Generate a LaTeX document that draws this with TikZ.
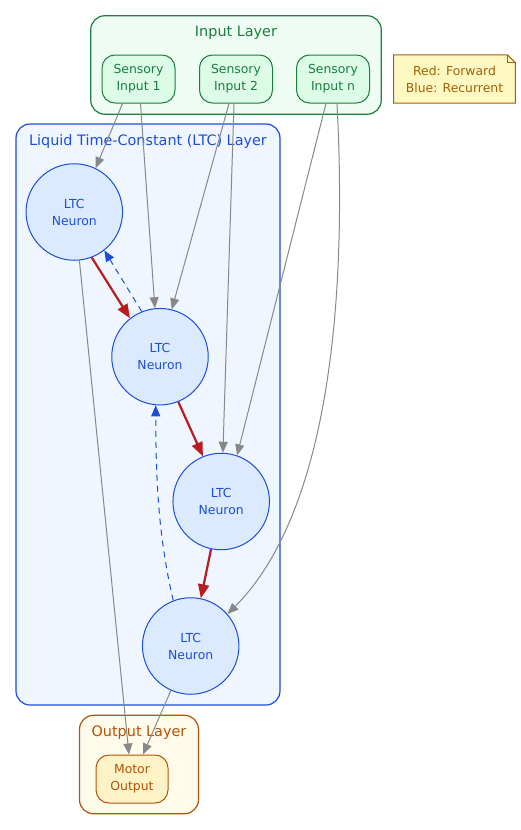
\documentclass[tikz,border=0pt]{standalone}
\usepackage{fontspec}
\setmainfont{DejaVu Sans}
\usetikzlibrary{arrows.meta}
\definecolor{ingreen}{HTML}{1A7F3E}
\definecolor{inback}{HTML}{EFFCF3}
\definecolor{inbox}{HTML}{DCFCE7}
\definecolor{ltcblue}{HTML}{1D4ED8}
\definecolor{ltcback}{HTML}{EFF6FF}
\definecolor{neuronfill}{HTML}{DBEAFE}
\definecolor{outbrown}{HTML}{B45309}
\definecolor{outback}{HTML}{FFFBEB}
\definecolor{motorfill}{HTML}{FEF3C7}
\definecolor{notefill}{HTML}{FEF9C3}
\definecolor{notebrown}{HTML}{A16207}
\definecolor{edgegray}{HTML}{888888}
\definecolor{fwdred}{HTML}{B91C1C}
\begin{document}
\begin{tikzpicture}[x=1pt,y=-1pt,
    every node/.style={font=\fontsize{12.4}{17}\selectfont, align=center},
    layer/.style={draw, rounded corners=14pt, line width=1.2pt, inner sep=0},
    title/.style={font=\fontsize{14.4}{17}\selectfont},
    sensor/.style={draw=ingreen, fill=inbox, text=ingreen, rounded corners=13pt, minimum width=73pt, minimum height=48pt, inner sep=0, line width=1pt},
    neuron/.style={circle, draw=ltcblue, fill=neuronfill, text=ltcblue, minimum size=96.5pt, inner sep=0, line width=1pt},
    link/.style={-{Triangle[length=11pt,width=9pt]}, draw=edgegray, line width=1pt},
    fwd/.style={-{Triangle[length=14pt,width=11pt]}, draw=fwdred, line width=2.2pt},
    rec/.style={-{Triangle[length=11pt,width=9pt]}, draw=ltcblue, line width=1pt, dash pattern=on 6pt off 5pt}]
    \fill[white] (0,0) rectangle (521,830);
    \useasboundingbox (0,0) rectangle (521,830);

    % layers
    \node[layer, draw=ingreen, fill=inback, minimum width=290.5pt, minimum height=98.5pt] (inlayer) at (236,65) {};
    \node[title, text=ingreen] (intitle) at (236,32.5) {Input Layer};
    \node[layer, draw=ltcblue, fill=ltcback, minimum width=264pt, minimum height=581pt] (ltclayer) at (148,414.5) {};
    \node[title, text=ltcblue] (ltctitle) at (148,141.5) {Liquid Time-Constant (LTC) Layer};
    \node[layer, draw=outbrown, fill=outback, minimum width=119pt, minimum height=98.5pt] (outlayer) at (139,764.5) {};
    \node[title, text=outbrown] (outtitle) at (139,732.5) {Output Layer};

    % nodes
    \node[sensor] (in1) at (138.5,79) {Sensory\\Input 1};
    \node[sensor] (in2) at (236,79) {Sensory\\Input 2};
    \node[sensor] (inn) at (333,79) {Sensory\\Input n};
    \node[neuron] (n1) at (74.3,212) {LTC\\Neuron};
    \node[neuron] (n2) at (160,356.7) {LTC\\Neuron};
    \node[neuron] (n3) at (221.2,501.5) {LTC\\Neuron};
    \node[neuron] (n4) at (190.7,646) {LTC\\Neuron};
    \node[draw=outbrown, fill=motorfill, text=outbrown, rounded corners=13pt, minimum width=72pt, minimum height=48pt, inner sep=0, line width=1pt] (motor) at (132,779) {Motor\\Output};

    % legend
    \node[text=notebrown, minimum width=121.5pt, minimum height=48pt, inner sep=0] (legend) at (454.5,79) {Red: Forward\\Blue: Recurrent};
    \filldraw[fill=notefill, draw=notebrown, line width=1pt] (legend.north west) -- ([xshift=-8pt]legend.north east) -- ([yshift=-8pt]legend.north east) -- (legend.south east) -- (legend.south west) -- cycle;
    \draw[notebrown, line width=1pt] ([xshift=-8pt]legend.north east) -- ([xshift=-8pt,yshift=-8pt]legend.north east) -- ([yshift=-8pt]legend.north east);
    \node[text=notebrown] at (legend) {Red: Forward\\Blue: Recurrent};

    % sensory links
    \draw[link] ([xshift=-16pt]in1.south) -- (n1.64);
    \draw[link] ([xshift=2pt]in1.south) -- (n2.96);
    \draw[link] ([xshift=-7pt]in2.south) -- (n2.76);
    \draw[link] ([xshift=-2pt]in2.south) -- (n3.88);
    \draw[link] ([xshift=-7pt]inn.south) -- (n3.71);
    \draw[link] ([xshift=4pt]inn.south) .. controls +(12,230) and +(92,-92) .. (n4.41);

    % forward and recurrent
    \draw[fwd] (n1.-69) -- (n2.128);
    \draw[fwd] (n2.-68) -- (n3.112);
    \draw[fwd] (n3.-102) -- (n4.78);
    \draw[rec] (n2.112) -- (n1.-52);
    \draw[rec] (n4.111) .. controls +(-14,-60) and +(0,80) .. (n2.-95);

    % output links
    \draw[link] (n1.-84) -- ([xshift=-3pt]motor.north);
    \draw[link] (n4.-114) -- ([xshift=11pt]motor.north);
\end{tikzpicture}
\end{document}
